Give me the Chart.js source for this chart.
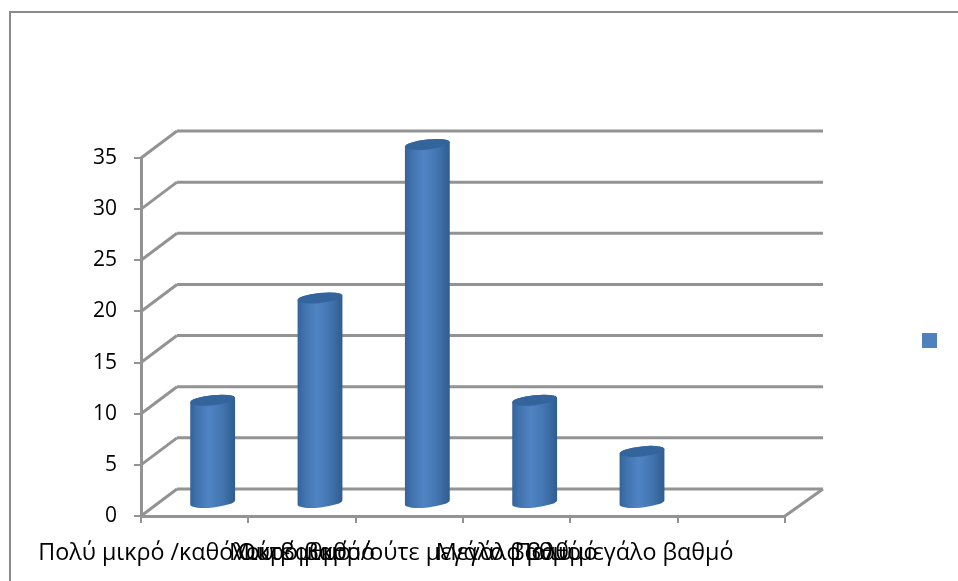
<!DOCTYPE html>
<html lang="el">
<head>
<meta charset="UTF-8">
<title>Γράφημα</title>
<style>
    html, body { margin: 0; padding: 0; background: #fff; }
    canvas { display: block; }
</style>
</head>
<body>
<canvas id="chart" width="958" height="581"></canvas>
<script src="https://cdn.jsdelivr.net/npm/chart.js"></script>
<script>
const categories = [
    'Πολύ μικρό /καθόλου βαθμό',
    'Μικρό βαθμό',
    'Ούτε μικρό/ούτε μεγάλο βαθμό',
    'Μεγάλο βαθμό',
    'Πολύ μεγάλο βαθμό',
    ''
];
const values = [10, 20, 35, 10, 5, null];
const yTicks = [0, 5, 10, 15, 20, 25, 30, 35];

const lineColor = '#939393';
const barColor = '#4f81bd';
const depthX = 36;
const depthY = -27;

function strokeLine(ctx, x1, y1, x2, y2) {
    ctx.beginPath();
    ctx.moveTo(x1, y1);
    ctx.lineTo(x2, y2);
    ctx.stroke();
}

// page frame and the small legend square
const framePlugin = {
    id: 'frame',
    beforeDraw(chart) {
        const ctx = chart.ctx;
        ctx.save();
        ctx.fillStyle = '#8a8a8a';
        ctx.fillRect(9, 11, 2, 570);
        ctx.fillRect(9, 11, 949, 2);
        ctx.fillStyle = barColor;
        ctx.fillRect(922, 333, 15, 15);
        ctx.restore();
    }
};

// back wall, side wall and floor behind the bars
const wallsPlugin = {
    id: 'walls',
    beforeDatasetsDraw(chart) {
        const ctx = chart.ctx;
        const x = chart.scales.x;
        const y = chart.scales.y;
        ctx.save();
        ctx.strokeStyle = lineColor;
        ctx.lineWidth = 3;
        yTicks.forEach(v => {
            const py = y.getPixelForValue(v);
            strokeLine(ctx, x.left, py, x.left + depthX, py + depthY);
            strokeLine(ctx, x.left + depthX, py + depthY, x.right + depthX + 2, py + depthY);
        });
        strokeLine(ctx, x.right, y.bottom, x.right + depthX + 2, y.bottom + depthY);
        ctx.restore();
    }
};

// bars are drawn as cylinders standing in the middle of the floor
const cylinderPlugin = {
    id: 'cylinder',
    beforeDatasetDraw(chart, args) {
        const ctx = chart.ctx;
        const base = chart.scales.y.bottom + depthY / 2;
        const tilt = -6 * Math.PI / 180;
        args.meta.data.forEach((bar, i) => {
            if (values[i] === null) return;
            const r = bar.width / 2;
            const cx = bar.x + depthX / 2;
            const top = bar.y + depthY / 2;
            const grad = ctx.createLinearGradient(cx - r, 0, cx + r, 0);
            grad.addColorStop(0, '#34639a');
            grad.addColorStop(0.15, '#4072ae');
            grad.addColorStop(0.42, '#4f83c3');
            grad.addColorStop(0.72, '#4275b0');
            grad.addColorStop(1, '#305c8f');
            ctx.save();
            ctx.fillStyle = grad;
            ctx.beginPath();
            ctx.ellipse(cx, top, r, 5, tilt, Math.PI, 0);
            ctx.ellipse(cx, base, r, 5, tilt, 0, Math.PI);
            ctx.closePath();
            ctx.fill();
            ctx.fillStyle = '#33649c';
            ctx.beginPath();
            ctx.ellipse(cx, top, r, 5, tilt, 0, Math.PI * 2);
            ctx.fill();
            ctx.restore();
        });
        return false;
    }
};

new Chart(document.getElementById('chart'), {
    type: 'bar',
    data: {
        labels: categories,
        datasets: [{
            data: values,
            backgroundColor: barColor,
            barPercentage: 0.42,
            categoryPercentage: 1
        }]
    },
    options: {
        responsive: false,
        animation: false,
        layout: { padding: { top: 158, right: 173, bottom: 0, left: 0 } },
        plugins: { legend: { display: false }, tooltip: { enabled: false } },
        scales: {
            x: {
                afterFit(scale) { scale.height = 65; },
                border: { color: lineColor, width: 3 },
                grid: { color: lineColor, lineWidth: 2, drawOnChartArea: false, tickLength: 7 },
                ticks: {
                    autoSkip: false,
                    maxRotation: 0,
                    minRotation: 0,
                    padding: 16,
                    color: '#000',
                    font: { family: '"Open Sans"', size: 23.3 }
                }
            },
            y: {
                min: 0,
                max: 35,
                afterFit(scale) { scale.width = 141; },
                afterBuildTicks(scale) { scale.ticks = yTicks.map(v => ({ value: v })); },
                border: { color: lineColor, width: 3 },
                grid: { color: lineColor, lineWidth: 2, drawOnChartArea: false, tickLength: 7 },
                ticks: {
                    padding: 17,
                    color: '#000',
                    font: { family: '"Open Sans"', size: 21 }
                }
            }
        }
    },
    plugins: [framePlugin, wallsPlugin, cylinderPlugin]
});
</script>
</body>
</html>
